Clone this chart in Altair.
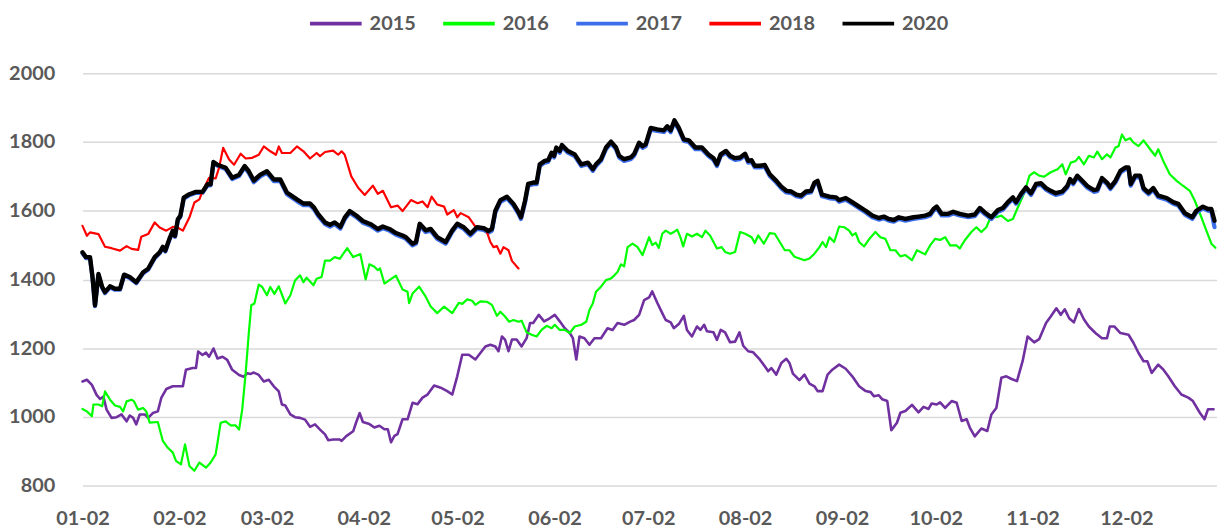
import altair as alt
import pandas as pd

# x values are days after Jan 2 (month-day axis), y values are prices
d2015 = [0, 1.4, 3.0, 4.5, 5.6, 6.7, 7.7, 9.3, 10.9, 12.5, 14.1, 15.1, 16.2, 17.2, 18.3, 19.9, 21.0, 22.5, 24.1, 25.2,
         26.8, 28.9, 30.5, 32.1, 33.1, 35.2, 36.3, 37.0, 38.4, 39.5, 40.5, 41.9, 43.2, 44.8, 46.3, 47.9, 50.1, 51.6, 52.7, 53.8,
         54.8, 56.4, 58.0, 59.6, 61.2, 62.8, 63.8, 64.9, 66.5, 68.0, 69.6, 71.2, 72.8, 74.4, 76.0, 77.6, 78.6, 80.2, 82.3, 82.9,
         84.4, 86.6, 87.6, 88.7, 89.7, 91.8, 93.4, 95.0, 96.6, 97.7, 98.7, 99.8, 100.8, 102.4, 104.0, 105.6, 107.2, 108.8, 110.4, 112.5,
         114.6, 116.7, 118.3, 119.9, 121.5, 123.6, 125.7, 127.3, 128.9, 130.5, 132.1, 133.1, 134.2, 135.2, 136.3, 137.4, 138.9, 140.5, 142.1, 143.2,
         144.2, 146.0, 147.7, 149.5, 151.1, 152.7, 154.3, 155.9, 156.9, 158.0, 159.0, 160.6, 162.2, 163.8, 165.9, 168.0, 169.6, 171.2, 173.3, 175.4,
         176.5, 178.1, 179.7, 181.3, 182.3, 183.9, 185.5, 186.6, 188.2, 189.2, 190.8, 192.4, 193.4, 195.0, 196.6, 197.7, 198.9, 199.8, 201.9, 203.0,
         204.2, 205.6, 207.2, 208.8, 210.2, 211.4, 213.0, 214.6, 216.7, 218.3, 219.4, 220.4, 222.0, 223.6, 225.2, 226.2, 227.3, 229.4, 231.0, 232.6,
         234.2, 235.2, 236.8, 238.4, 240.0, 242.1, 244.2, 246.3, 248.5, 250.6, 252.2, 253.2, 254.8, 255.9, 257.5, 258.8, 260.6, 261.7, 263.3, 265.4,
         267.5, 269.1, 270.7, 271.7, 273.3, 274.4, 276.0, 278.1, 279.7, 281.3, 282.9, 283.9, 285.5, 287.6, 289.5, 290.8, 292.4, 294.0, 295.6, 297.1,
         299.0, 300.8, 302.4, 304.5, 306.1, 308.3, 309.8, 311.6, 313.0, 314.3, 315.7, 317.2, 318.8, 320.4, 322.0, 324.1, 326.2, 327.8, 328.7, 330.2,
         332.1, 334.7, 336.3, 337.9, 339.5, 340.7, 342.1, 344.2, 345.8, 347.4, 349.5, 351.6, 353.8, 355.3, 357.5, 359.0, 360.1, 361.9]
v2015 = [1103, 1108, 1093, 1064, 1052, 1059, 1021, 997, 999, 1007, 987, 1004, 997, 978, 1007, 1007, 997, 1011, 1016, 1055,
         1081, 1089, 1089, 1089, 1137, 1142, 1142, 1190, 1180, 1187, 1175, 1199, 1170, 1175, 1166, 1137, 1122, 1117, 1127, 1125,
         1129, 1122, 1103, 1108, 1089, 1074, 1036, 1033, 1007, 999, 997, 992, 971, 978, 963, 949, 932, 934, 934, 930,
         944, 958, 985, 1011, 985, 979, 969, 974, 964, 964, 926, 945, 950, 993, 993, 1041, 1037, 1056, 1065, 1091,
         1085, 1075, 1065, 1118, 1181, 1181, 1167, 1186, 1205, 1210, 1205, 1191, 1234, 1225, 1191, 1225, 1225, 1205, 1229, 1273,
         1273, 1297, 1278, 1287, 1297, 1278, 1258, 1244, 1229, 1167, 1234, 1229, 1210, 1229, 1229, 1258, 1253, 1273, 1268, 1278,
         1282, 1297, 1340, 1348, 1365, 1332, 1302, 1282, 1275, 1258, 1270, 1294, 1253, 1234, 1263, 1253, 1268, 1249, 1246, 1224,
         1253, 1246, 1217, 1219, 1246, 1207, 1191, 1188, 1167, 1147, 1133, 1142, 1123, 1157, 1169, 1157, 1126, 1107, 1123, 1097,
         1089, 1075, 1075, 1123, 1138, 1152, 1140, 1118, 1089, 1075, 1072, 1060, 1063, 1051, 1046, 961, 983, 1012, 1017, 1035,
         1013, 1029, 1023, 1039, 1036, 1042, 1026, 1046, 1041, 988, 993, 969, 943, 966, 959, 1007, 1026, 1114, 1118, 1111,
         1104, 1162, 1234, 1217, 1226, 1273, 1292, 1316, 1297, 1313, 1287, 1275, 1314, 1284, 1263, 1244, 1229, 1229, 1263, 1263,
         1244, 1239, 1215, 1186, 1162, 1162, 1128, 1152, 1138, 1118, 1089, 1065, 1056, 1046, 1012, 993, 1022, 1022]

d2016 = [0, 1.4, 3.0, 3.5, 5.1, 6.3, 7.2, 8.8, 10.4, 12.0, 13.0, 14.1, 15.7, 16.5, 17.8, 19.4, 20.4, 21.5, 24.1, 25.7,
         27.3, 28.9, 29.9, 31.5, 32.8, 34.2, 35.8, 37.4, 39.5, 41.0, 42.6, 44.2, 45.8, 47.4, 49.0, 50.1, 51.1, 52.2, 53.2, 54.0,
         55.0, 56.4, 57.5, 59.0, 60.1, 61.4, 62.8, 64.9, 66.5, 68.0, 69.6, 70.7, 71.7, 73.9, 74.9, 76.5, 77.6, 79.2, 80.7, 82.3,
         84.7, 86.6, 88.9, 90.6, 91.8, 93.4, 94.5, 95.2, 96.6, 98.2, 100.3, 102.4, 104.0, 104.5, 105.6, 107.7, 109.8, 111.4, 113.5, 115.7,
         118.3, 120.4, 121.5, 123.1, 124.7, 125.7, 127.3, 129.4, 131.0, 132.6, 133.7, 135.2, 136.5, 137.9, 139.5, 140.5, 142.1, 143.7, 145.3, 146.9,
         148.5, 150.1, 151.1, 152.7, 154.3, 155.9, 157.5, 159.6, 161.2, 162.2, 163.3, 164.3, 165.9, 167.5, 169.1, 170.2, 171.2, 172.3, 173.3, 174.4,
         176.0, 177.6, 179.2, 181.3, 182.3, 183.4, 184.4, 185.5, 186.6, 188.2, 189.2, 190.3, 191.3, 192.2, 193.4, 195.0, 196.6, 198.2, 199.3, 200.8,
         203.0, 204.5, 205.6, 207.2, 208.8, 210.4, 212.0, 214.1, 215.1, 216.2, 218.0, 219.9, 221.5, 223.1, 224.7, 226.2, 227.8, 229.4, 231.0, 232.6,
         234.2, 235.8, 236.8, 237.9, 239.0, 240.5, 242.1, 243.7, 245.3, 246.3, 247.4, 248.5, 250.1, 251.6, 253.7, 255.3, 256.9, 258.5, 260.1, 261.7,
         263.3, 265.4, 267.0, 269.6, 271.2, 272.8, 274.4, 276.0, 277.6, 279.7, 280.7, 282.3, 284.4, 286.0, 287.6, 289.2, 290.8, 292.4, 294.0, 296.1,
         297.7, 299.3, 301.4, 303.0, 304.5, 306.1, 307.7, 309.8, 312.0, 313.5, 314.6, 316.2, 317.8, 318.8, 320.4, 322.0, 323.6, 324.7, 326.2, 327.8,
         328.9, 330.5, 331.5, 332.6, 333.7, 335.2, 336.3, 337.9, 339.5, 341.6, 343.2, 344.2, 345.8, 347.9, 350.1, 352.2, 354.3, 355.9, 358.0, 359.6,
         361.2, 362.5]
v2016 = [1023, 1016, 1002, 1036, 1036, 1031, 1074, 1050, 1033, 1029, 1016, 1045, 1050, 1045, 1021, 1026, 1016, 983, 985, 930,
         910, 896, 872, 862, 920, 857, 843, 867, 852, 867, 891, 983, 987, 975, 975, 963, 1021, 1127, 1243, 1325,
         1330, 1385, 1378, 1354, 1378, 1358, 1380, 1330, 1354, 1397, 1412, 1392, 1405, 1383, 1402, 1407, 1455, 1455, 1465, 1460,
         1491, 1465, 1474, 1400, 1444, 1437, 1427, 1432, 1388, 1398, 1411, 1371, 1364, 1331, 1359, 1379, 1350, 1321, 1302, 1321,
         1302, 1332, 1329, 1342, 1338, 1326, 1336, 1335, 1326, 1294, 1306, 1292, 1277, 1282, 1277, 1280, 1246, 1239, 1234, 1253,
         1265, 1258, 1268, 1253, 1253, 1244, 1263, 1268, 1277, 1311, 1331, 1364, 1379, 1398, 1403, 1412, 1422, 1444, 1438, 1494,
         1504, 1494, 1471, 1523, 1500, 1507, 1492, 1533, 1542, 1533, 1538, 1545, 1523, 1496, 1533, 1525, 1533, 1523, 1542, 1528,
         1490, 1494, 1480, 1475, 1480, 1538, 1533, 1523, 1506, 1528, 1504, 1535, 1533, 1509, 1485, 1485, 1466, 1461, 1456, 1461,
         1475, 1494, 1509, 1494, 1523, 1509, 1554, 1552, 1542, 1528, 1535, 1509, 1496, 1516, 1538, 1523, 1518, 1485, 1485, 1467,
         1471, 1456, 1485, 1473, 1499, 1518, 1515, 1523, 1499, 1499, 1490, 1514, 1538, 1552, 1538, 1552, 1586, 1581, 1586, 1570,
         1576, 1610, 1653, 1702, 1712, 1702, 1699, 1712, 1721, 1735, 1706, 1740, 1745, 1757, 1735, 1760, 1755, 1772, 1750, 1764,
         1755, 1784, 1788, 1822, 1805, 1811, 1798, 1788, 1805, 1779, 1760, 1779, 1745, 1706, 1687, 1672, 1658, 1629, 1581, 1542,
         1504, 1492]

d2018 = [0, 1.4, 2.4, 5.1, 7.2, 9.3, 12.0, 14.1, 15.7, 17.8, 18.8, 21.0, 23.1, 24.7, 26.8, 28.9, 30.5, 32.1, 34.2, 35.8,
         37.4, 38.4, 40.5, 42.6, 43.7, 45.0, 46.9, 48.5, 50.6, 52.2, 54.3, 56.4, 58.0, 60.1, 61.9, 62.8, 63.8, 66.5, 68.6, 70.7,
         72.8, 74.9, 76.0, 77.6, 80.2, 81.8, 82.9, 83.9, 86.0, 88.2, 90.3, 92.9, 94.5, 96.1, 98.7, 100.8, 102.4, 105.1, 107.2, 108.8,
         110.4, 111.7, 113.5, 115.7, 116.7, 118.8, 119.9, 121.0, 123.6, 125.7, 128.4, 129.4, 130.5, 131.5, 132.6, 133.7, 134.7, 136.3, 137.4, 139.5]
v2018 = [1556, 1527, 1537, 1532, 1495, 1491, 1484, 1497, 1489, 1486, 1524, 1532, 1566, 1551, 1542, 1553, 1551, 1542, 1580, 1624,
         1633, 1657, 1696, 1694, 1725, 1783, 1749, 1734, 1766, 1752, 1754, 1763, 1787, 1773, 1763, 1787, 1768, 1768, 1787, 1773,
         1752, 1768, 1759, 1771, 1775, 1763, 1773, 1763, 1700, 1667, 1646, 1673, 1649, 1658, 1610, 1615, 1599, 1631, 1622, 1627,
         1610, 1641, 1618, 1612, 1589, 1602, 1581, 1593, 1581, 1554, 1552, 1538, 1509, 1494, 1497, 1475, 1494, 1485, 1454, 1432]

d2020 = [0, 1.1, 2.4, 3.2, 4.0, 5.1, 6.3, 7.2, 8.8, 10.4, 12.0, 13.3, 15.1, 17.2, 19.4, 21.0, 23.1, 24.7, 25.7, 26.5,
         27.8, 28.9, 29.6, 30.5, 31.3, 32.4, 34.2, 36.3, 38.4, 40.0, 41.0, 41.9, 43.2, 45.8, 47.9, 50.1, 51.9, 53.2, 54.8, 56.9,
         59.0, 61.2, 63.3, 65.4, 68.6, 70.7, 72.8, 74.1, 75.4, 77.6, 79.2, 80.7, 82.5, 83.9, 85.5, 87.6, 89.7, 92.4, 94.5, 96.1,
         98.2, 100.3, 102.4, 103.5, 105.6, 106.7, 107.9, 109.8, 111.4, 113.5, 116.2, 118.3, 119.9, 122.0, 124.1, 126.2, 128.4, 129.9, 131.0, 132.1,
         133.7, 135.8, 137.9, 139.5, 140.3, 141.6, 142.6, 144.2, 145.3, 146.3, 147.9, 149.0, 150.1, 150.9, 151.6, 152.7, 153.4, 155.3, 157.5, 159.6,
         161.7, 163.3, 164.3, 165.9, 167.5, 169.1, 170.7, 171.7, 173.3, 175.4, 176.5, 178.1, 179.2, 180.2, 181.8, 183.9, 186.0, 187.1, 188.2, 189.4,
         190.8, 192.4, 194.0, 196.1, 198.2, 200.3, 201.9, 203.0, 204.2, 205.9, 207.2, 208.8, 210.4, 212.0, 213.0, 214.1, 215.1, 216.7, 218.3, 219.9,
         222.0, 223.6, 225.2, 226.8, 228.4, 229.9, 231.5, 233.1, 234.2, 235.2, 236.6, 239.0, 241.1, 242.1, 244.2, 246.3, 248.5, 250.6, 252.7, 254.8,
         256.4, 258.0, 259.6, 261.2, 263.3, 265.9, 267.5, 269.6, 271.2, 272.3, 273.3, 274.9, 277.0, 278.6, 280.7, 283.4, 285.5, 287.1, 288.7, 290.8,
         292.9, 294.5, 296.1, 297.7, 298.7, 300.3, 301.9, 303.5, 305.1, 306.7, 308.3, 309.8, 311.4, 313.5, 315.1, 316.0, 317.0, 318.3, 319.9, 321.5,
         323.6, 324.7, 326.2, 327.8, 328.9, 330.5, 332.1, 333.7, 334.7, 335.4, 336.8, 338.4, 339.5, 341.1, 342.6, 344.2, 346.9, 349.0, 350.6, 352.7,
         355.1, 356.4, 358.5, 360.1, 361.2, 362.2]
v2020 = [1479, 1465, 1465, 1407, 1325, 1416, 1378, 1363, 1380, 1373, 1373, 1414, 1407, 1392, 1421, 1431, 1465, 1479, 1495, 1484,
         1518, 1542, 1527, 1575, 1585, 1638, 1648, 1655, 1655, 1677, 1677, 1742, 1734, 1725, 1696, 1705, 1730, 1715, 1688, 1705,
         1715, 1691, 1691, 1653, 1633, 1621, 1621, 1609, 1590, 1566, 1559, 1566, 1553, 1580, 1599, 1586, 1570, 1560, 1547, 1554,
         1547, 1535, 1528, 1523, 1504, 1509, 1562, 1543, 1547, 1523, 1509, 1543, 1562, 1552, 1533, 1552, 1549, 1541, 1547, 1600,
         1631, 1641, 1620, 1596, 1581, 1629, 1678, 1682, 1682, 1735, 1745, 1747, 1769, 1760, 1784, 1774, 1791, 1774, 1764, 1735,
         1740, 1721, 1735, 1750, 1784, 1801, 1784, 1760, 1750, 1755, 1765, 1798, 1788, 1793, 1841, 1837, 1834, 1846, 1834, 1863,
         1841, 1808, 1805, 1784, 1784, 1764, 1753, 1735, 1764, 1774, 1760, 1753, 1755, 1766, 1745, 1747, 1731, 1731, 1733, 1706,
         1687, 1670, 1658, 1656, 1647, 1644, 1656, 1658, 1682, 1687, 1647, 1641, 1639, 1631, 1637, 1625, 1612, 1600, 1586, 1579,
         1583, 1576, 1573, 1581, 1576, 1581, 1583, 1586, 1591, 1605, 1612, 1591, 1591, 1597, 1591, 1586, 1589, 1608, 1595, 1581,
         1602, 1608, 1625, 1639, 1625, 1649, 1668, 1651, 1678, 1680, 1666, 1658, 1651, 1656, 1672, 1692, 1682, 1702, 1687, 1672,
         1660, 1662, 1695, 1682, 1668, 1687, 1716, 1726, 1726, 1678, 1702, 1702, 1666, 1653, 1666, 1644, 1637, 1625, 1620, 1593,
         1581, 1600, 1612, 1605, 1605, 1571]

d2017 = d2020
v2017 = [1476, 1462, 1462, 1404, 1322, 1413, 1375, 1360, 1377, 1370, 1370, 1411, 1404, 1389, 1418, 1428, 1462, 1476, 1492, 1481,
         1515, 1539, 1524, 1572, 1582, 1635, 1645, 1652, 1652, 1674, 1674, 1739, 1731, 1721, 1692, 1701, 1726, 1710, 1683, 1700,
         1710, 1686, 1686, 1648, 1628, 1616, 1616, 1604, 1585, 1561, 1554, 1561, 1548, 1575, 1594, 1581, 1565, 1555, 1542, 1549,
         1542, 1530, 1523, 1518, 1499, 1504, 1557, 1538, 1542, 1518, 1504, 1538, 1557, 1547, 1528, 1547, 1544, 1536, 1542, 1595,
         1626, 1636, 1615, 1591, 1576, 1624, 1673, 1677, 1677, 1730, 1740, 1742, 1764, 1755, 1779, 1769, 1786, 1769, 1759, 1730,
         1735, 1716, 1730, 1745, 1779, 1796, 1779, 1755, 1745, 1750, 1760, 1793, 1783, 1788, 1836, 1832, 1829, 1841, 1829, 1858,
         1836, 1803, 1800, 1779, 1779, 1759, 1748, 1730, 1759, 1769, 1755, 1748, 1750, 1761, 1740, 1742, 1726, 1726, 1728, 1701,
         1682, 1665, 1653, 1651, 1642, 1639, 1651, 1653, 1677, 1682, 1642, 1636, 1634, 1626, 1632, 1620, 1607, 1595, 1581, 1574,
         1578, 1571, 1568, 1576, 1571, 1576, 1578, 1581, 1586, 1600, 1607, 1586, 1586, 1592, 1586, 1581, 1584, 1603, 1590, 1576,
         1597, 1603, 1620, 1634, 1620, 1644, 1663, 1646, 1673, 1675, 1661, 1653, 1646, 1651, 1667, 1687, 1677, 1697, 1682, 1667,
         1655, 1657, 1690, 1677, 1663, 1682, 1711, 1721, 1721, 1673, 1697, 1697, 1661, 1648, 1661, 1639, 1632, 1620, 1615, 1588,
         1576, 1595, 1607, 1600, 1598, 1552]

series_names = ["2015", "2016", "2017", "2018", "2020"]
series_colors = ["#7030A0", "#00FF00", "#3C6EEB", "#FF0000", "#000000"]
tick_labels = ["01-02", "02-02", "03-02", "04-02", "05-02", "06-02",
               "07-02", "08-02", "09-02", "10-02", "11-02", "12-02"]
y_ticks = [800, 1000, 1200, 1400, 1600, 1800, 2000]

line_widths = {"2015": 2.6, "2016": 2.2, "2017": 4.2, "2018": 2.2, "2020": 4.4}
start = pd.Timestamp("2019-01-02")
rows = []
for name, days, vals in [("2015", d2015, v2015), ("2016", d2016, v2016), ("2017", d2017, v2017),
                         ("2018", d2018, v2018), ("2020", d2020, v2020)]:
    for d, v in zip(days, vals):
        rows.append({"series": name, "date": start + pd.Timedelta(days=d), "value": v,
                     "w": line_widths[name]})
df = pd.DataFrame(rows)

tick_vals = [alt.DateTime(year=2019, month=int(t[:2]), date=int(t[3:])) for t in tick_labels]
FONT = "Lato"
GRAY = "#595959"

chart = alt.Chart(df).mark_line(strokeJoin="round", strokeCap="round").encode(
    x=alt.X("date:T",
            scale=alt.Scale(domain=[alt.DateTime(year=2019, month=1, date=2),
                                    alt.DateTime(year=2019, month=12, date=31)]),
            axis=alt.Axis(values=tick_vals, format="%m-%d", title=None, grid=False, domain=False,
                          ticks=False, labelPadding=23, labelFont=FONT, labelFontSize=20,
                          labelFontWeight="bold", labelColor=GRAY, labelOverlap=False,
                          labelFlush=False)),
    y=alt.Y("value:Q",
            scale=alt.Scale(domain=[800, 2000], nice=False, zero=False),
            axis=alt.Axis(values=y_ticks, format="d", title=None, domain=False, ticks=False,
                          gridColor="#D9D9D9", gridWidth=1.5, labelPadding=28,
                          labelFont=FONT, labelFontSize=20, labelFontWeight="bold",
                          labelColor=GRAY)),
    color=alt.Color("series:N",
                    scale=alt.Scale(domain=series_names, range=series_colors),
                    legend=alt.Legend(title=None, orient="none", direction="horizontal",
                                      legendX=227, legendY=-78, symbolType="stroke",
                                      symbolSize=2700, symbolStrokeWidth=4,
                                      labelFont=FONT, labelFontSize=20, labelFontWeight="bold",
                                      labelColor=GRAY, labelOffset=6, columnPadding=19,
                                      padding=0)),
    strokeWidth=alt.StrokeWidth("w:Q", scale=None, legend=None),
).properties(
    width=1142, height=415,
    autosize=alt.AutoSizeParams(type="none"),
    padding={"left": 75, "top": 64, "right": 0, "bottom": 46},
    background="white",
).configure_view(stroke=None)

chart.save("out.html", embed_options={"renderer": "svg", "actions": False})
